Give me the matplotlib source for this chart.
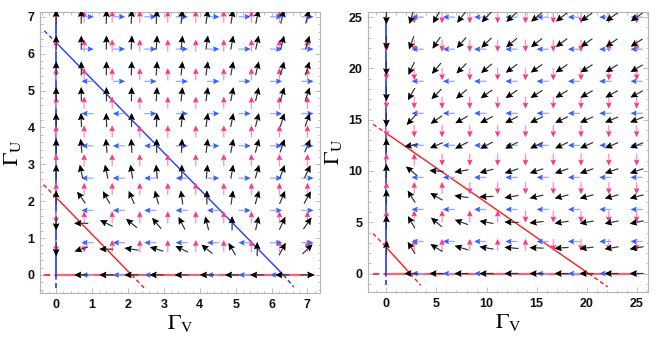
import numpy as np
import matplotlib
matplotlib.use('Agg')
import matplotlib.pyplot as plt
from matplotlib.ticker import MultipleLocator

plt.rcParams['mathtext.fontset'] = 'stix'
plt.rcParams['font.family'] = ['Liberation Sans', 'DejaVu Sans']

# ---------------- data: left panel ----------------
left_black_grid = [0, 0.7, 1.4, 2.1, 2.8, 3.5, 4.2, 4.9, 5.6, 6.3, 7.0]
# black arrow directions (degrees), rows = Gamma_U grid (bottom->top), cols = Gamma_V grid
left_black_angles = [
    [None, 180, 180, 180, 180, 180, 180, 180, 180, 180, 0],
    [270, 199, 180, 171, 163, 154, 141, 120, 90, 62, 44],
    [270, 180, 154, 141, 130, 117, 104, 90, 77, 65, 55],
    [90, 125, 119, 113, 105, 98, 90, 82, 74, 67, 61],
    [90, 102, 102, 99, 95, 90, 85, 80, 74, 69, 65],
    [90, 95, 95, 93, 90, 87, 83, 79, 75, 71, 67],
    [90, 92, 92, 90, 88, 85, 82, 79, 76, 73, 70],
    [90, 91, 90, 89, 87, 84, 82, 79, 77, 74, 71],
    [90, 90, 89, 88, 86, 84, 82, 80, 77, 75, 73],
    [90, 90, 89, 87, 86, 84, 82, 80, 78, 76, 74],
    [90, 89, 88, 87, 86, 84, 82, 81, 79, 77, 75],
]
left_pink_grid = [0, 0.78, 1.56, 2.33, 3.11, 3.89, 4.67, 5.44, 6.22, 7.0]
# vertical component sign (+ up, - down, 0 none), rows bottom->top
left_pink_signs = [
    "0000000000",
    "--++++++++",
    "-+++++++++",
    "++++++++++",
    "++++++++++",
    "++++++++++",
    "++++++++++",
    "++++++++++",
    "++++++++++",
    "++++++++++",
]
left_blue_grid = [0, 0.875, 1.75, 2.625, 3.5, 4.375, 5.25, 6.125, 7.0]
# horizontal component sign (+ right, - left, 0 none), rows bottom->top
left_blue_signs = [
    "0-------+",
    "0------++",
    "0-----+++",
    "0----++++",
    "0---+++++",
    "0--++++++",
    "0-+++++++",
    "0++++++++",
    "0++++++++",
]
# nullclines (Gamma_V, Gamma_U) : outer points dashed, inner part solid
left_red_diag_v = [-0.35, 0, 2.1, 2.45]
left_red_diag_u = [2.45, 2.1, 0, -0.35]
left_blue_diag_v = [-0.33, 0, 6.33, 6.62]
left_blue_diag_u = [6.62, 6.3, 0, -0.33]
left_blue_axis_u = [-0.35, 0, 7.0]
left_red_axis_v = [-0.35, 0, 7.15]
left_ticks = [0, 1, 2, 3, 4, 5, 6, 7]

# ---------------- data: right panel ----------------
right_black_grid = [0, 2.5, 5, 7.5, 10, 12.5, 15, 17.5, 20, 22.5, 25]
right_black_angles = [
    [None, 180, 180, 180, 180, 180, 180, 180, 180, 180, 180],
    [90, 122, 148, 163, 170, 175, 178, 184, 187, 189, 190],
    [90, 120, 140, 160, 170, 178, 186, 189, 190, 191, 192],
    [90, 122, 150, 172, 182, 190, 193, 194, 195, 195, 195],
    [90, 140, 176, 190, 195, 198, 198, 199, 199, 199, 199],
    [90, 190, 203, 207, 208, 207, 206, 205, 204, 203, 202],
    [270, 228, 215, 210, 208, 207, 206, 205, 204, 203, 202],
    [270, 240, 225, 220, 216, 214, 212, 211, 210, 209, 208],
    [270, 245, 230, 225, 220, 217, 215, 214, 213, 212, 211],
    [270, 250, 236, 229, 224, 220, 218, 216, 215, 214, 213],
    [270, 254, 240, 232, 227, 223, 220, 218, 217, 216, 215],
]
right_pink_grid = [0, 2.78, 5.56, 8.33, 11.11, 13.89, 16.67, 19.44, 22.22, 25]
right_pink_signs = [
    "0000000000",
    "++++++----",
    "+++++-----",
    "+++-------",
    "++--------",
    "----------",
    "----------",
    "----------",
    "----------",
    "----------",
]
right_blue_grid = [0, 3.125, 6.25, 9.375, 12.5, 15.625, 18.75, 21.875, 25]
right_blue_signs = ["0--------"] * 9
right_red_big_v = [-1.33, 0, 20.2, 22.1]
right_red_big_u = [14.55, 13.67, 0, -1.3]
right_red_small_v = [-1.33, 0, 2.37, 3.43]
right_red_small_u = [3.9, 2.54, 0, -1.14]
right_blue_axis_u = [-1.15, 0, 25.0]
right_red_axis_v = [-1.33, 0, 25.1]
right_ticks = [0, 5, 10, 15, 20, 25]

# ---------------- styles ----------------
BLACK_HEAD, BLACK_SHAFT = '#000000', '#3c3c3c'
PINK_HEAD, PINK_SHAFT = '#ff3585', '#ff9cc0'
BLUE_HEAD, BLUE_SHAFT = '#3a5fff', '#a3b4ff'
LINE_RED, LINE_BLUE = '#ff1a1a', '#1f3cff'
FRAME = '#b4b4b4'


def draw_arrows(ax, xs, ys, angs, length_px, head_px, head_len, shaft_w, shaft_c, head_c, z):
    xs = np.asarray(xs, float)
    ys = np.asarray(ys, float)
    angs = np.asarray(angs, float)
    one = np.ones_like(xs)
    zero = np.zeros_like(xs)
    common = dict(angles=angs, pivot='middle', scale_units='inches',
                  scale=100.0 / length_px, units='dots')
    # shaft layer (light)
    ax.quiver(xs, ys, one, zero, color=shaft_c, width=shaft_w,
              headwidth=head_px / shaft_w, headlength=head_len / shaft_w,
              headaxislength=head_len * 0.85 / shaft_w, zorder=z, **common)
    # head layer (dark)
    w = 0.1
    ax.quiver(xs, ys, one, zero, color=head_c, width=w,
              headwidth=head_px / w, headlength=head_len / w,
              headaxislength=head_len * 0.85 / w, zorder=z + 0.1, **common)


def field_from_angles(grid, table):
    xs, ys, a = [], [], []
    for j, row in enumerate(table):
        for i, ang in enumerate(row):
            if ang is None:
                continue
            xs.append(grid[i]); ys.append(grid[j]); a.append(ang)
    return xs, ys, a


def field_from_signs(grid, table, pos_ang, neg_ang):
    xs, ys, a = [], [], []
    for j, row in enumerate(table):
        for i, ch in enumerate(row):
            if ch == '0':
                continue
            xs.append(grid[i]); ys.append(grid[j])
            a.append(pos_ang if ch == '+' else neg_ang)
    return xs, ys, a


def draw_nullcline(ax, vs, us, color, lw):
    ax.plot(vs[:2], us[:2], color=color, lw=lw, ls=(0, (3, 2)), zorder=2)
    ax.plot(vs[1:-1], us[1:-1], color=color, lw=lw, zorder=2)
    ax.plot(vs[-2:], us[-2:], color=color, lw=lw, ls=(0, (3, 2)), zorder=2)


def draw_axis_lines(ax, blue_u, red_v):
    ax.plot([0, 0], blue_u[:2], color=LINE_BLUE, lw=1.2, ls=(0, (3, 2)), zorder=2)
    ax.plot([0, 0], blue_u[1:], color=LINE_BLUE, lw=1.2, zorder=2)
    ax.plot(red_v[:2], [0, 0], color='#ff3b4b', lw=1.5, ls=(0, (3, 2)), zorder=1.9)
    ax.plot(red_v[1:], [0, 0], color='#ff3b4b', lw=1.6, alpha=0.8, zorder=1.9)


def style_axes(ax, ticks, minor, xlim, ylim):
    ax.set_xlim(*xlim)
    ax.set_ylim(*ylim)
    ax.set_xticks(ticks)
    ax.set_yticks(ticks)
    ax.xaxis.set_minor_locator(MultipleLocator(minor))
    ax.yaxis.set_minor_locator(MultipleLocator(minor))
    for s in ax.spines.values():
        s.set_color(FRAME)
        s.set_linewidth(0.8)
    ax.tick_params(which='both', direction='in', top=True, right=True,
                   color=FRAME, width=0.6)
    ax.tick_params(which='major', length=3.5, labelsize=9, pad=4,
                   labelcolor='#111111')
    ax.tick_params(which='minor', length=1.8)
    for lab in ax.get_xticklabels() + ax.get_yticklabels():
        lab.set_fontweight('bold')


fig = plt.figure(figsize=(6.65, 3.39), dpi=100)
axL = fig.add_axes([40 / 665, 46 / 339, 280 / 665, 281 / 339])
axR = fig.add_axes([368 / 665, 47 / 339, 280 / 665, 280 / 339])

# left panel
draw_axis_lines(axL, left_blue_axis_u, left_red_axis_v)
draw_nullcline(axL, left_red_diag_v, left_red_diag_u, LINE_RED, 1.0)
draw_nullcline(axL, left_blue_diag_v, left_blue_diag_u, LINE_BLUE, 1.0)
draw_arrows(axL, *field_from_signs(left_pink_grid, left_pink_signs, 90, 270), 12, 5.5, 6, 1.3, PINK_SHAFT, PINK_HEAD, 3)
draw_arrows(axL, *field_from_signs(left_blue_grid, left_blue_signs, 0, 180), 12, 5.5, 6, 1.3, BLUE_SHAFT, BLUE_HEAD, 3.2)
draw_arrows(axL, *field_from_angles(left_black_grid, left_black_angles), 14, 6.5, 7, 1.2, BLACK_SHAFT, BLACK_HEAD, 3.5)
style_axes(axL, left_ticks, 0.2, (-0.45, 7.35), (-0.49, 7.13))

# right panel
draw_axis_lines(axR, right_blue_axis_u, right_red_axis_v)
draw_nullcline(axR, right_red_big_v, right_red_big_u, LINE_RED, 1.0)
draw_nullcline(axR, right_red_small_v, right_red_small_u, LINE_RED, 1.0)
draw_arrows(axR, *field_from_signs(right_pink_grid, right_pink_signs, 90, 270), 12, 5.5, 6, 1.3, PINK_SHAFT, PINK_HEAD, 3)
draw_arrows(axR, *field_from_signs(right_blue_grid, right_blue_signs, 0, 180), 12, 5.5, 6, 1.3, BLUE_SHAFT, BLUE_HEAD, 3.2)
draw_arrows(axR, *field_from_angles(right_black_grid, right_black_angles), 14, 6.5, 7, 1.2, BLACK_SHAFT, BLACK_HEAD, 3.5)
style_axes(axR, right_ticks, 1, (-1.84, 26.13), (-1.8, 25.5))

for ax in (axL, axR):
    ax.set_xlabel(r'$\Gamma_{\mathrm{V}}$', fontsize=16, labelpad=2)
    ax.set_ylabel(r'$\Gamma_{\mathrm{U}}$', fontsize=16, labelpad=3)

fig.savefig('out.png', dpi=100)
